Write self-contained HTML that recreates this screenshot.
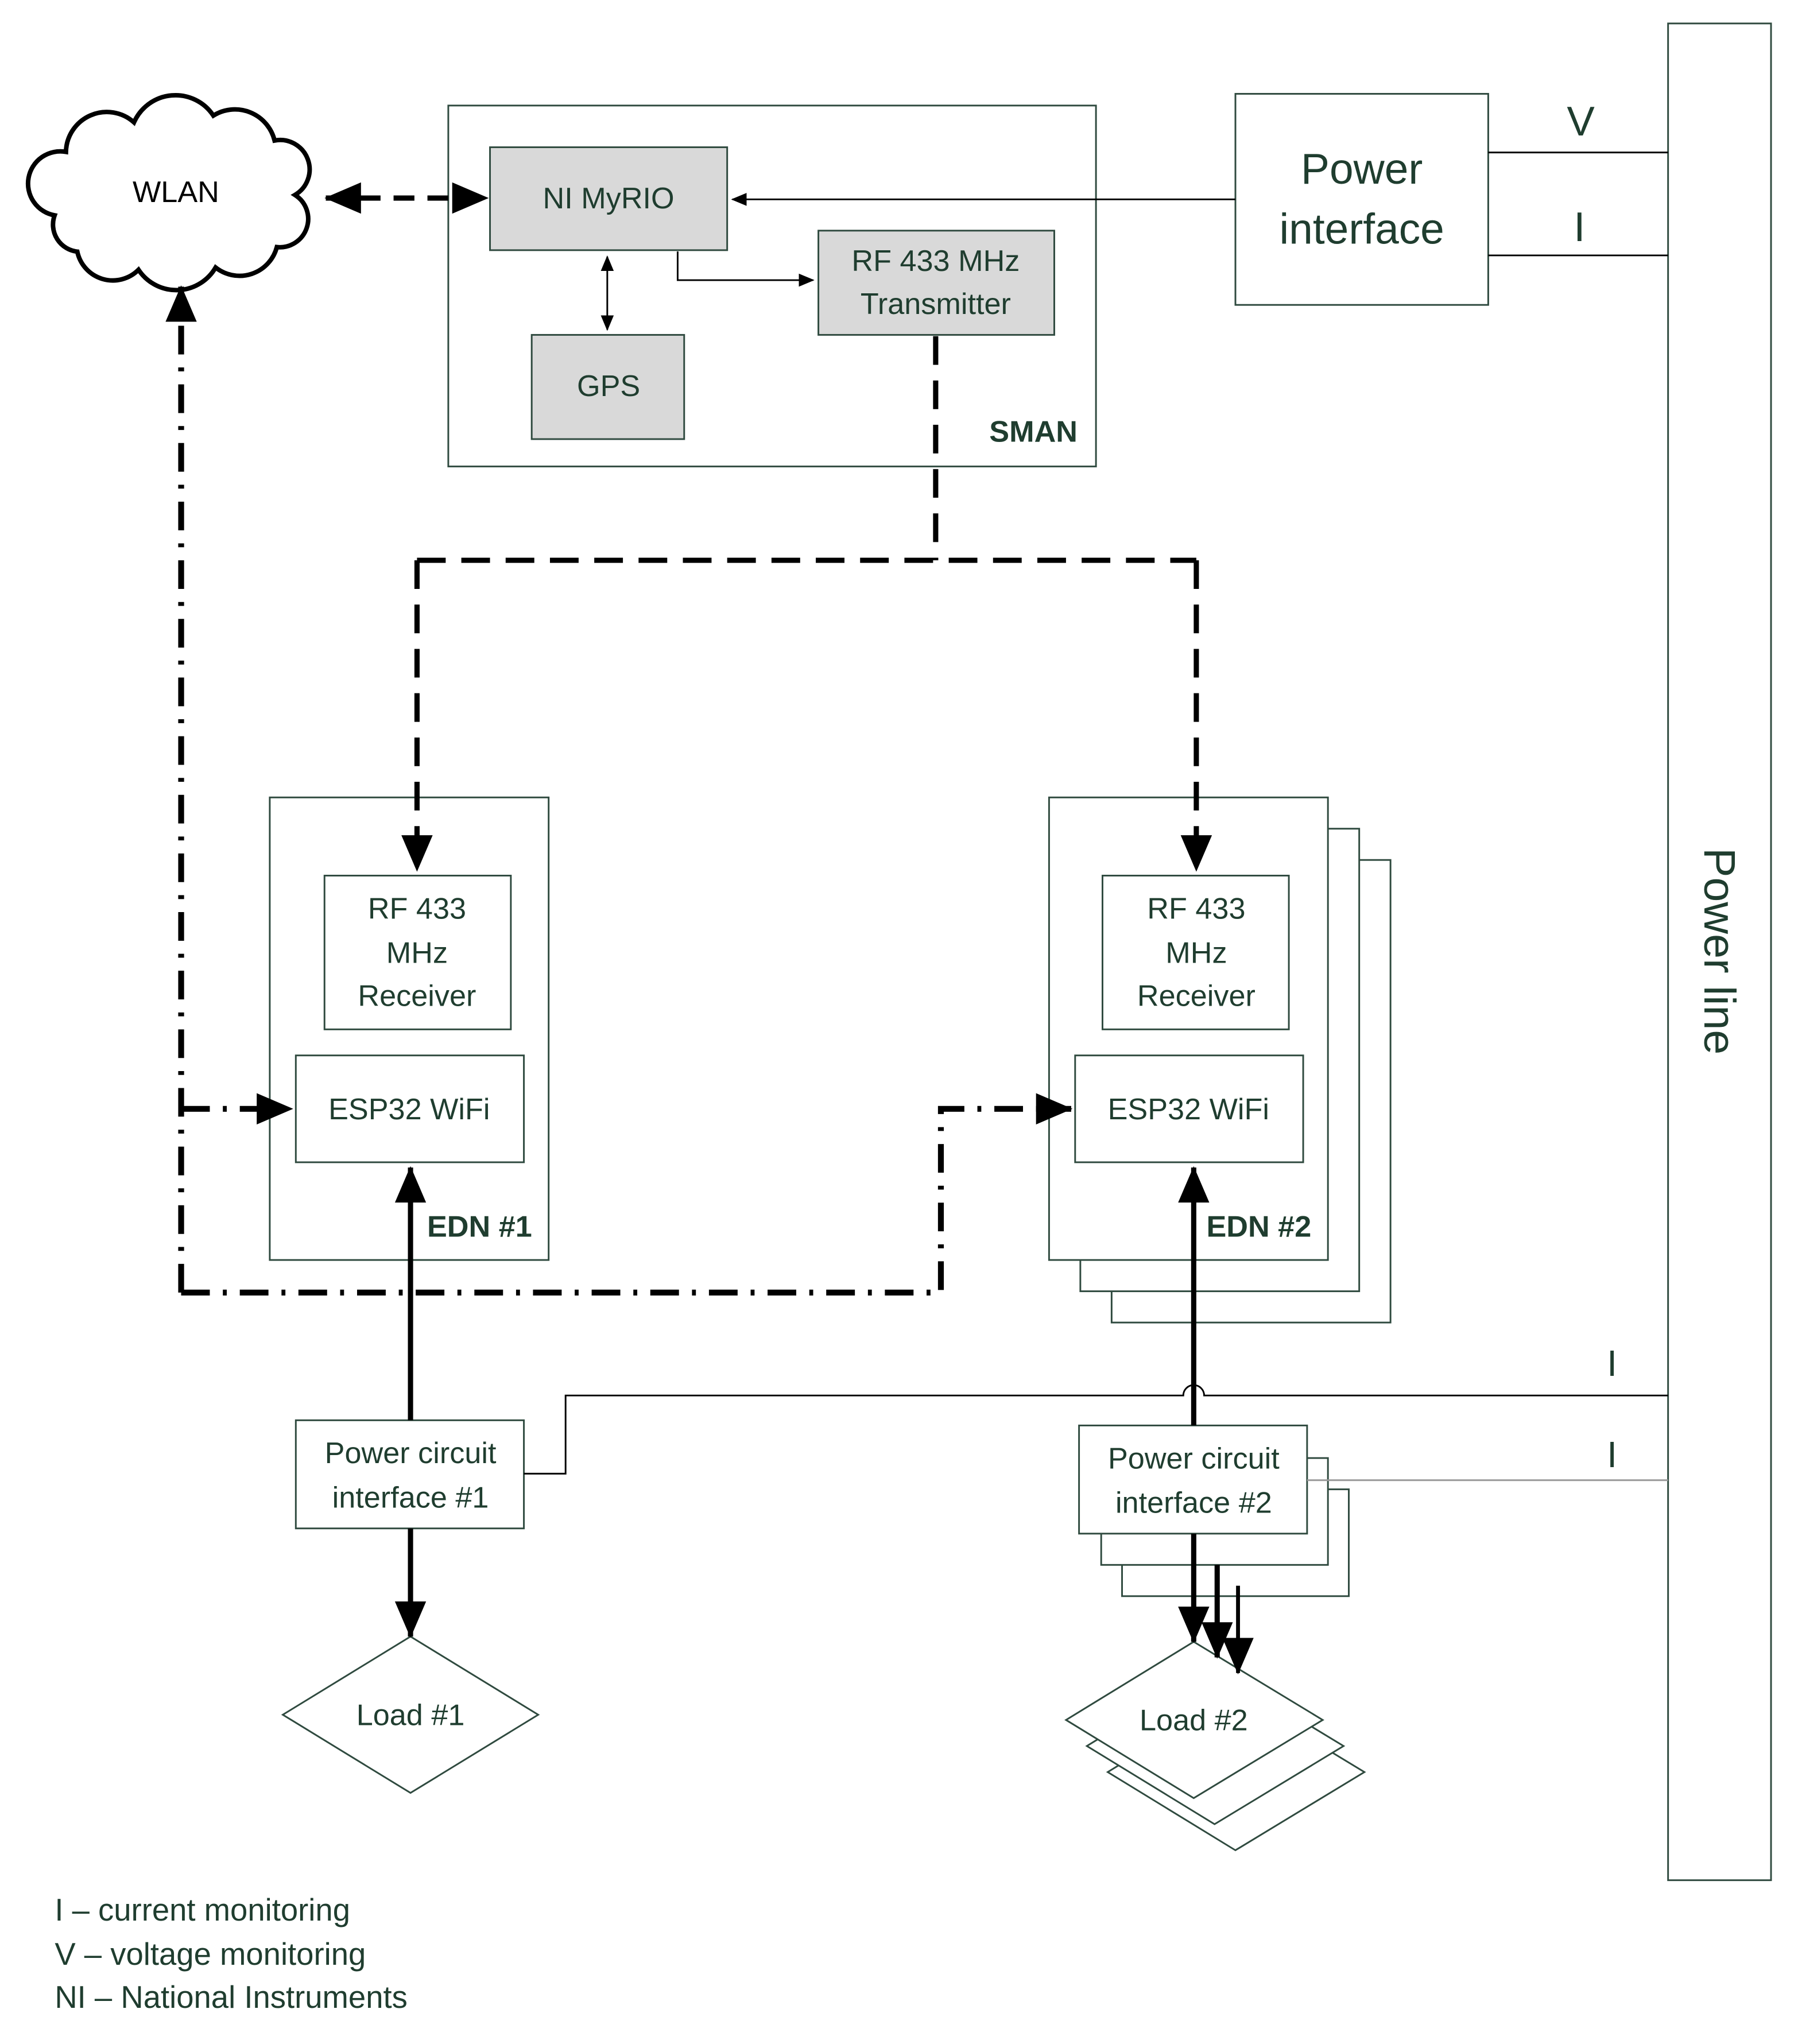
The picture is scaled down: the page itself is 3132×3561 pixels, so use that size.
<!DOCTYPE html>
<html><head><meta charset="utf-8"><style>html,body{margin:0;padding:0;background:#fff}svg{display:block}</style></head>
<body>
<svg width="3132" height="3561" viewBox="0 0 1379.7 1568.7" preserveAspectRatio="none" xmlns="http://www.w3.org/2000/svg" font-family="Liberation Sans, sans-serif" fill="#1f3d2f">
<defs>
<marker id="ah" markerWidth="28" markerHeight="28" refX="27" refY="14" orient="auto-start-reverse" markerUnits="userSpaceOnUse" viewBox="0 0 28 28"><path d="M0,2 L28,14 L0,26 Z" fill="#000"/></marker>
<marker id="as" markerWidth="12" markerHeight="12" refX="11" refY="6" orient="auto-start-reverse" markerUnits="userSpaceOnUse" viewBox="0 0 12 12"><path d="M0,1 L12,6 L0,11 Z" fill="#000"/></marker>
</defs>
<g fill="none" stroke="#2f4a3f" stroke-width="1.3">
<rect x="1280" y="18" width="79" height="1425"/>
<rect x="344" y="81" width="497" height="277"/>
<rect x="376" y="113" width="182" height="79" fill="#d9d9d9"/>
<rect x="628" y="177" width="181" height="80" fill="#d9d9d9"/>
<rect x="408" y="257" width="117" height="80" fill="#d9d9d9"/>
<rect x="948" y="72" width="194" height="162"/>
<rect x="207" y="612" width="214" height="355"/>
<rect x="249" y="672" width="143" height="118"/>
<rect x="227" y="810" width="175" height="82"/>
<rect x="853" y="660" width="214" height="355" fill="#fff"/>
<rect x="829" y="636" width="214" height="355" fill="#fff"/>
<rect x="805" y="612" width="214" height="355" fill="#fff"/>
<rect x="846" y="672" width="143" height="118"/>
<rect x="825" y="810" width="175" height="82"/>
<rect x="227" y="1090" width="175" height="83" fill="#fff"/>
<rect x="861" y="1143" width="174" height="82" fill="#fff"/>
<rect x="845" y="1119" width="174" height="82" fill="#fff"/>
<rect x="828" y="1094" width="175" height="83" fill="#fff"/>
<path d="M315,1256 L413,1316 L315,1376 L217,1316 Z" fill="#fff"/>
<path d="M948,1300 L1047,1360 L948,1420 L850,1360 Z" fill="#fff"/>
<path d="M932,1280 L1031,1340 L932,1400 L834,1340 Z" fill="#fff"/>
<path d="M916,1260 L1015,1320 L916,1380 L818,1320 Z" fill="#fff"/>
</g>
<g fill="none" stroke="#000" stroke-width="1.3">
<line x1="1142" y1="117" x2="1280" y2="117"/>
<line x1="1142" y1="196" x2="1280" y2="196"/>
<line x1="948" y1="153" x2="562" y2="153" marker-end="url(#as)"/>
<path d="M520,193 L520,215 L624,215" marker-end="url(#as)"/>
<line x1="466" y1="197" x2="466" y2="253" marker-start="url(#as)" marker-end="url(#as)"/>
<path d="M402,1131 L434,1131 L434,1071 L908,1071 A8,8 0 0 1 924,1071 L1280,1071"/>
<line x1="1003" y1="1136" x2="1280" y2="1136" stroke="#999"/>
</g>
<path transform="translate(135,147) scale(0.87) translate(-135,-147)" d="M48,200 A24,24 0 0 1 28,168 A22,22 0 0 1 38,112 A36,36 0 0 1 98,86 A40,40 0 0 1 168,80 A36,36 0 0 1 222,102 A26,26 0 0 1 240,150 A25,25 0 0 1 224,196 A34,34 0 0 1 170,214 A40,40 0 0 1 102,216 A32,32 0 0 1 48,200 Z" fill="#fff" stroke="#000" stroke-width="4"/>
<g fill="none" stroke="#000" stroke-width="4">
<line x1="250" y1="152" x2="374" y2="152" stroke-dasharray="16 10" marker-start="url(#ah)" marker-end="url(#ah)"/>
<path d="M718,258 L718,430 M320,430 L918,430" stroke-dasharray="22 12"/>
<line x1="320" y1="430" x2="320" y2="668" stroke-dasharray="22 12" marker-end="url(#ah)"/>
<line x1="918" y1="430" x2="918" y2="668" stroke-dasharray="22 12" marker-end="url(#ah)"/>
<g stroke-width="4.5">
<path d="M139,992 L139,220" stroke-dasharray="22 10 3 10" marker-end="url(#ah)"/>
<path d="M139,992 L722,992 L722,851 L822,851" stroke-dasharray="22 10 3 10" marker-end="url(#ah)"/>
<path d="M139,851 L224,851" stroke-dasharray="22 10 3 10" marker-end="url(#ah)"/>
</g>
<line x1="315" y1="1090" x2="315" y2="896" marker-end="url(#ah)"/>
<line x1="916" y1="1094" x2="916" y2="896" marker-end="url(#ah)"/>
<line x1="315" y1="1173" x2="315" y2="1256" marker-end="url(#ah)"/>
<line x1="916" y1="1177" x2="916" y2="1260" marker-end="url(#ah)"/>
<line x1="934" y1="1201" x2="934" y2="1272" marker-end="url(#ah)"/>
<line x1="950" y1="1217" x2="950" y2="1284" stroke-width="3" marker-end="url(#ah)"/>
</g>
<g font-size="23" text-anchor="middle">
<text x="135" y="155" fill="#000">WLAN</text>
<text x="467" y="160">NI MyRIO</text>
<text x="718" y="208">RF 433 MHz</text>
<text x="718" y="241">Transmitter</text>
<text x="467" y="304">GPS</text>
<text x="320" y="705">RF 433</text>
<text x="320" y="739">MHz</text>
<text x="320" y="772">Receiver</text>
<text x="314" y="859">ESP32 WiFi</text>
<text x="918" y="705">RF 433</text>
<text x="918" y="739">MHz</text>
<text x="918" y="772">Receiver</text>
<text x="912" y="859">ESP32 WiFi</text>
<text x="315" y="1123">Power circuit</text>
<text x="315" y="1157">interface #1</text>
<text x="916" y="1127">Power circuit</text>
<text x="916" y="1161">interface #2</text>
<text x="315" y="1324">Load #1</text>
<text x="916" y="1328">Load #2</text>
<text x="793" y="339" font-weight="bold">SMAN</text>
<text x="368" y="949" font-weight="bold">EDN #1</text>
<text x="966" y="949" font-weight="bold">EDN #2</text>
<text x="1045" y="141" font-size="33">Power</text>
<text x="1045" y="187" font-size="33">interface</text>
<text x="1213" y="104" font-size="32">V</text>
<text x="1212" y="185" font-size="32">I</text>
<text x="1237" y="1056" font-size="28">I</text>
<text x="1237" y="1126" font-size="28">I</text>
<text x="0" y="0" font-size="34" transform="translate(1308,730) rotate(90)">Power line</text>
</g>
<g font-size="24">
<text x="42" y="1474">I – current monitoring</text>
<text x="42" y="1508">V – voltage monitoring</text>
<text x="42" y="1541">NI – National Instruments</text>
</g>
</svg>
</body></html>
